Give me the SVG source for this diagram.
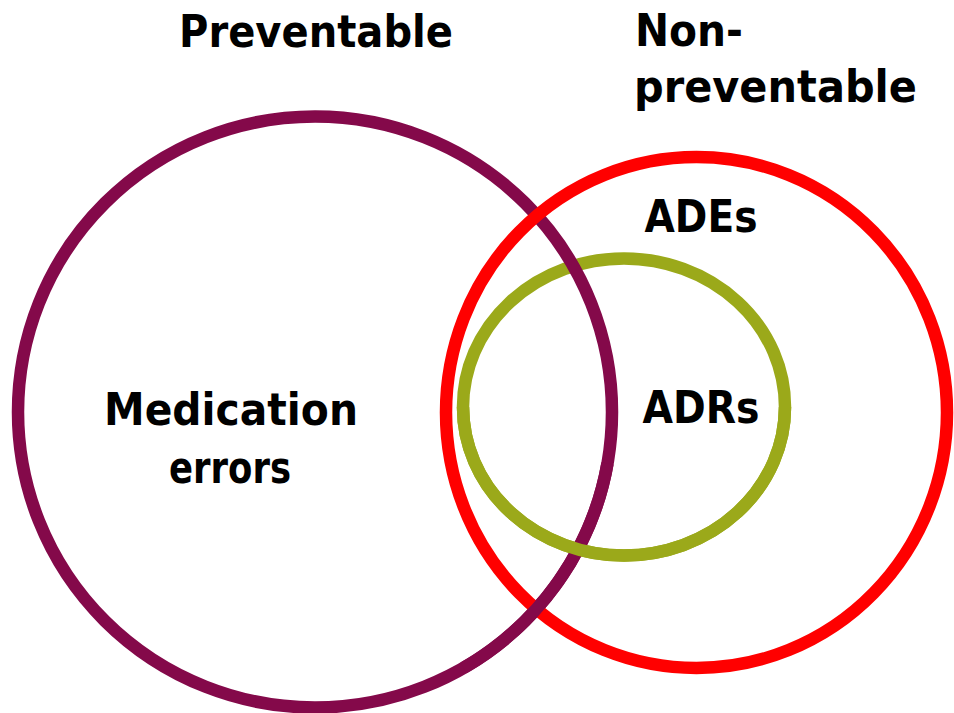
<svg xmlns="http://www.w3.org/2000/svg" width="954" height="713" viewBox="0 0 954 713">
<style>
.ring{fill:none;stroke-width:12.5}
.p{stroke:#84094A}
.r{stroke:#FF0000}
.g{stroke:#9BA91A}
text{font-family:"DejaVu Sans","Liberation Sans",sans-serif;font-weight:bold;font-size:45px;fill:#000}
</style>
<rect width="954" height="713" fill="#fff"/>
<g id="adrs">
<ellipse class="ring g" cx="624" cy="407" rx="161" ry="148.5"/>
</g>
<g id="medication-errors">
<ellipse class="ring p" cx="315" cy="412" rx="297" ry="295.5"/>
</g>
<g id="ades">
<ellipse class="ring r" cx="696.5" cy="412.5" rx="250.5" ry="255.5"/>
</g>
<g id="overlaps">
<path class="ring p" d="M 607.5 463.3 A 297 295.5 0 0 1 463.5 667.9"/>
<path class="ring g" d="M 463 407 A 161 148.5 0 0 0 785 407"/>
</g>
<g id="labels">
<text x="179" y="47" textLength="274" lengthAdjust="spacingAndGlyphs">Preventable</text>
<text x="635" y="46" textLength="108" lengthAdjust="spacingAndGlyphs">Non-</text>
<text x="634" y="102" textLength="283" lengthAdjust="spacingAndGlyphs">preventable</text>
<text x="231" y="425" text-anchor="middle" textLength="254" lengthAdjust="spacingAndGlyphs">Medication</text>
<text x="230" y="483" text-anchor="middle" textLength="122" lengthAdjust="spacingAndGlyphs">errors</text>
<text x="701" y="232" text-anchor="middle" textLength="113" lengthAdjust="spacingAndGlyphs">ADEs</text>
<text x="701" y="423" text-anchor="middle" textLength="117" lengthAdjust="spacingAndGlyphs">ADRs</text>
</g>
</svg>
